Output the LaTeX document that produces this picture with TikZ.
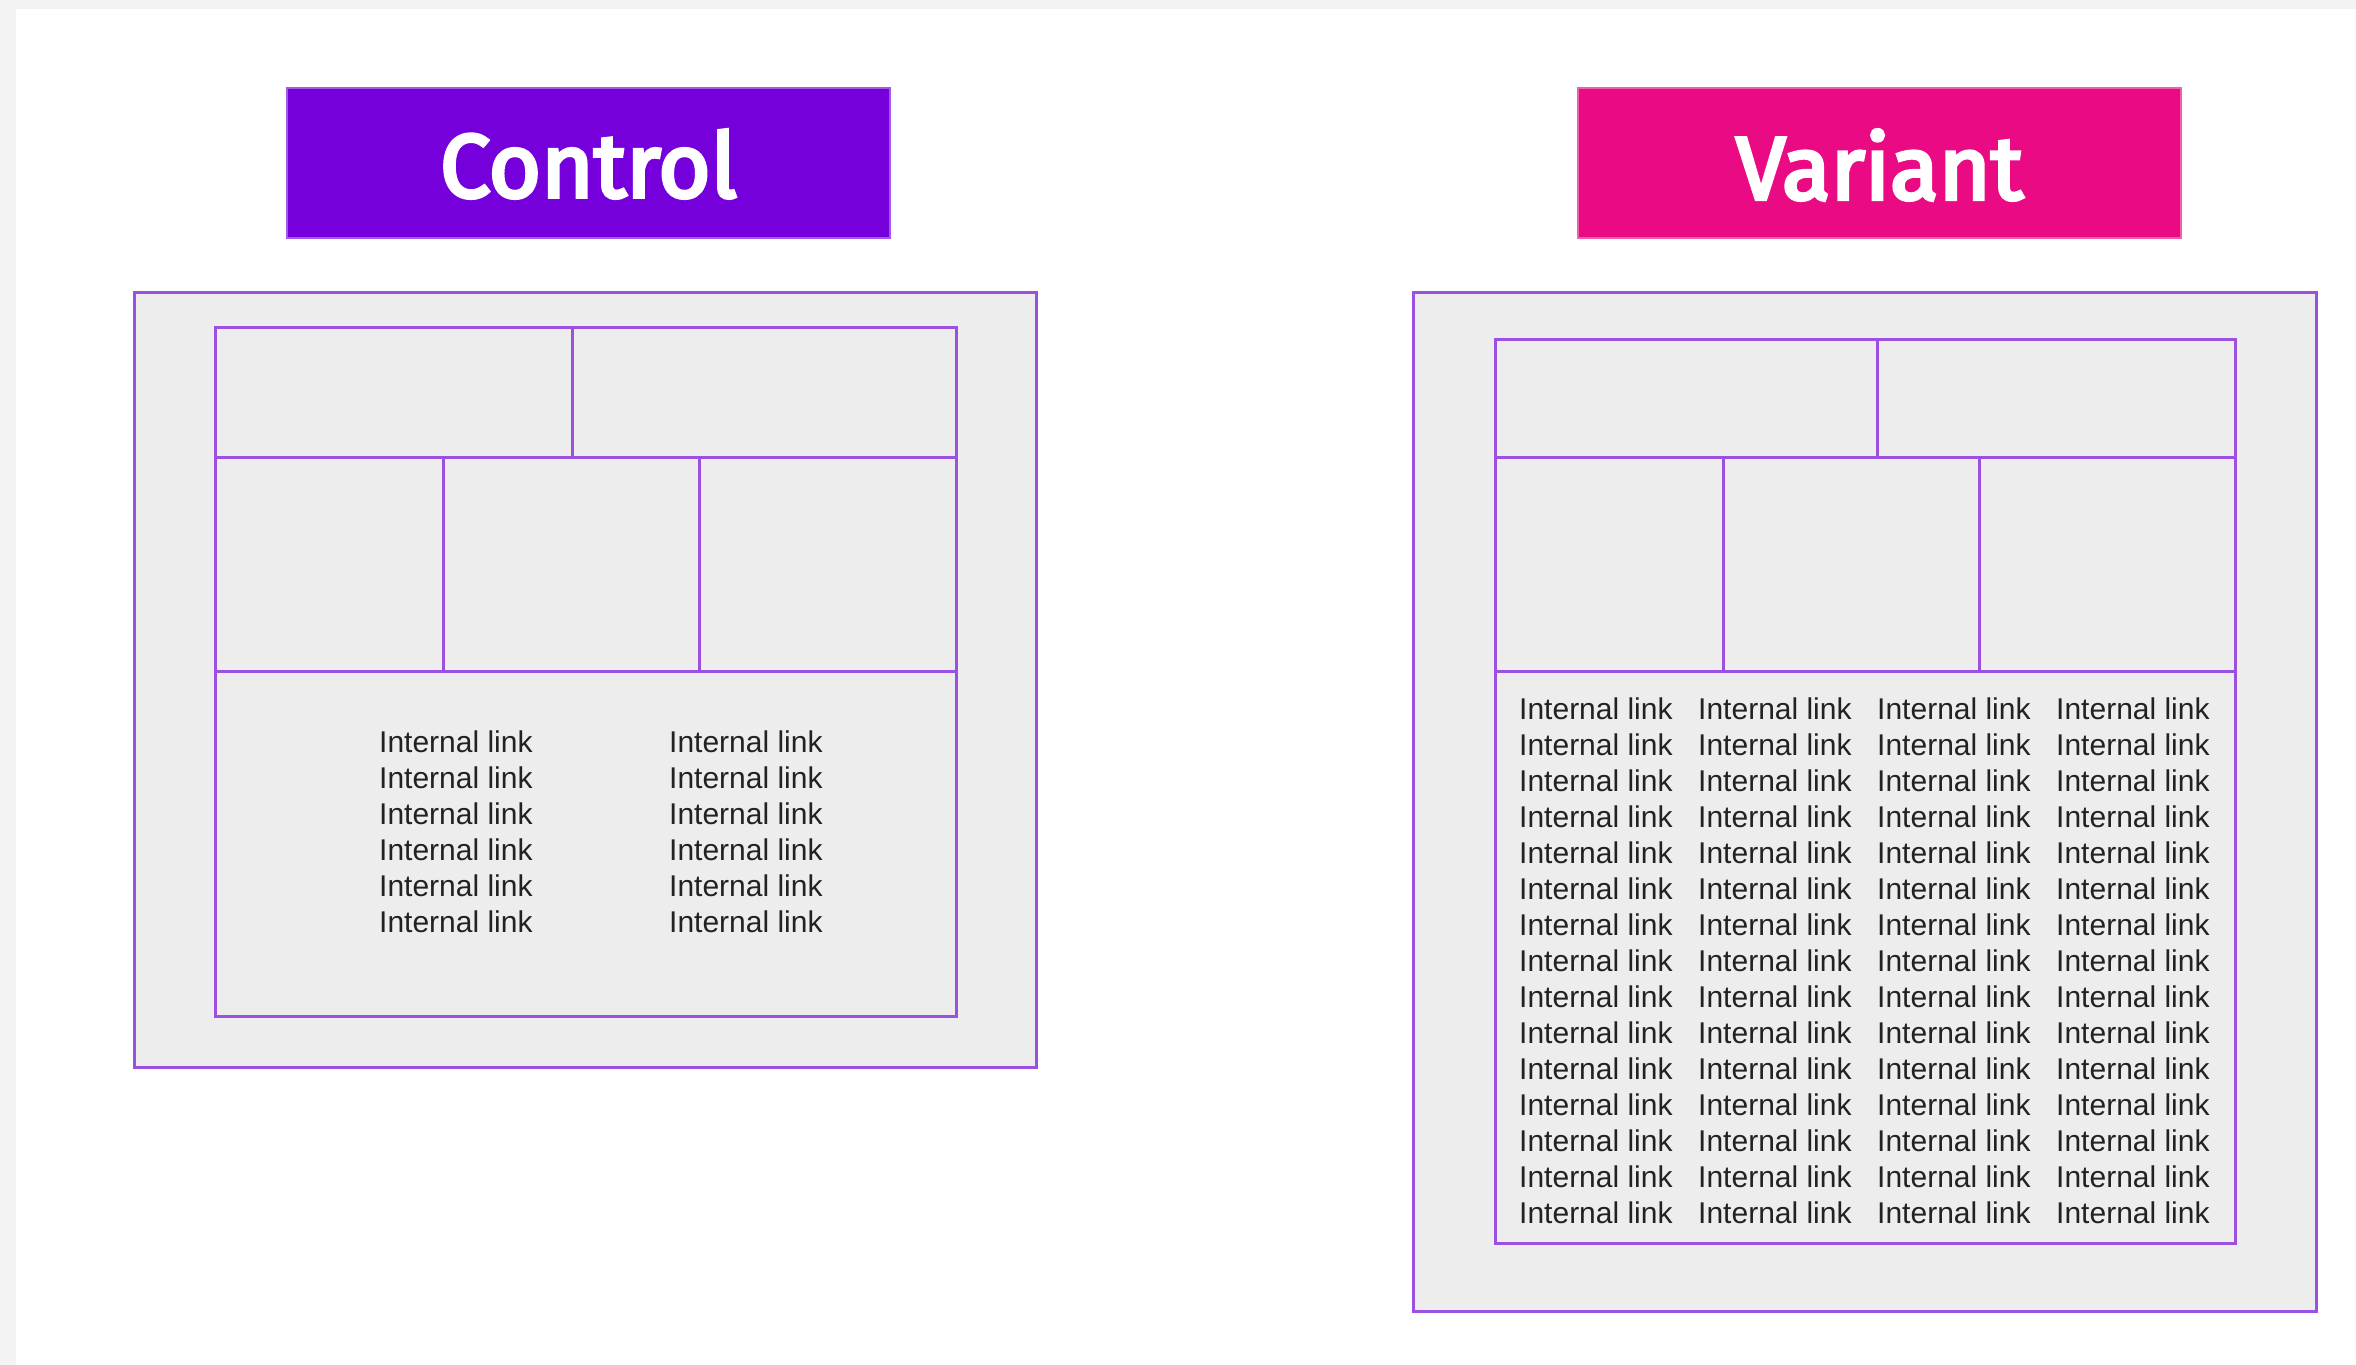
\documentclass[tikz,border=0pt]{standalone}
\usepackage{fontspec}
\setmainfont{Liberation Sans}
\newfontfamily\labelfont{Fira Sans}[FakeBold=4]
\usetikzlibrary{positioning}
\definecolor{strip}{HTML}{F3F3F3}
\definecolor{panel}{HTML}{EDEDED}
\definecolor{frame}{HTML}{9B50E2}
\definecolor{ctrlc}{HTML}{7600DC}
\definecolor{varc}{HTML}{EA0A84}
\definecolor{linktext}{HTML}{222222}
\tikzset{
  framebox/.style={draw=frame, line width=3pt, fill=panel},
  divline/.style={draw=frame, line width=3pt},
  linklabel/.style={anchor=west, inner sep=0pt, text=linktext, font=\fontsize{30pt}{30pt}\selectfont},
  tagbox/.style={line width=2.5pt},
  tagtext/.style={text=white, inner sep=0pt, font=\labelfont\fontsize{92pt}{92pt}\selectfont}
}
\begin{document}
\begin{tikzpicture}[x=1pt, y=-1pt]
\useasboundingbox (0,0) rectangle (2356,1365);
\fill[white] (0,0) rectangle (2356,1365);
\fill[strip] (0,0) rectangle (2356,9);
\fill[strip] (0,0) rectangle (16,1365);

% ---------- Control ----------
\filldraw[tagbox, fill=ctrlc, draw=ctrlc!65!white] (287,88) rectangle (890,238);
\node[tagtext] (ctrltag) at (588.5,164) {\resizebox{297pt}{!}{Control}};

\draw[framebox] (134,292) rectangle (1036,1067);
\draw[framebox] (215,327) rectangle (956,1016);
\draw[divline] (215,457) -- (956,457);
\draw[divline] (215,671) -- (956,671);
\draw[divline] (572,327) -- (572,457);
\draw[divline] (443,457) -- (443,671);
\draw[divline] (699,457) -- (699,671);

\foreach \i in {0,...,5}{
  \node[linklabel] (cA\i) at (379,742+36*\i) {Internal link};
  \node[linklabel] (cB\i) at (669,742+36*\i) {Internal link};
}

% ---------- Variant ----------
\filldraw[tagbox, fill=varc, draw=varc!65!white] (1578,88) rectangle (2181,238);
\node[tagtext] (vartag) at (1879.5,165) {\resizebox{287pt}{!}{Variant}};

\draw[framebox] (1413,292) rectangle (2316,1311);
\draw[framebox] (1495,339) rectangle (2235,1243);
\draw[divline] (1495,457) -- (2235,457);
\draw[divline] (1495,671) -- (2235,671);
\draw[divline] (1877,339) -- (1877,457);
\draw[divline] (1723,457) -- (1723,671);
\draw[divline] (1979,457) -- (1979,671);

\foreach \i in {0,...,14}{
  \node[linklabel] (vA\i) at (1519,709+36*\i) {Internal link};
  \node[linklabel] (vB\i) at (1698,709+36*\i) {Internal link};
  \node[linklabel] (vC\i) at (1877,709+36*\i) {Internal link};
  \node[linklabel] (vD\i) at (2056,709+36*\i) {Internal link};
}
\end{tikzpicture}
\end{document}
